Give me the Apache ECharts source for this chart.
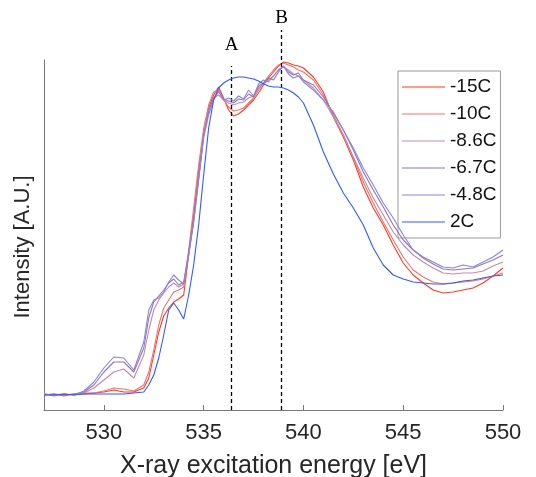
<!DOCTYPE html>
<html>
<head>
<meta charset="utf-8">
<script src="https://cdn.jsdelivr.net/npm/echarts@6/dist/echarts.min.js"></script>
<style>
html,body{margin:0;padding:0;background:#fff;}
#chart{width:536px;height:477px;}
</style>
</head>
<body>
<div id="chart"></div>
<script>
// Energy grid (eV)
const energies = [527,527.5,528,528.5,529,529.5,530,530.5,531,531.5,532,
  532.25,532.5,532.75,533,533.25,533.5,533.75,534,534.25,534.5,534.75,535,535.25,535.5,535.75,536,536.25,536.5,536.75,537,537.25,537.5,537.75,538,538.25,538.5,538.75,539,539.25,539.5,539.75,540,
  540.5,541,541.5,542,542.5,543,543.5,544,544.5,545,545.5,546,546.5,547,547.5,548,548.5,549,549.5,550];

const seriesNames = ['-15C','-10C','-8.6C','-6.7C','-4.8C','2C'];

const intM15 = [15,16,14,16,16,17,18,20,18,18,22,
  32,55,78,94,102,108,111,115,155,195,240,275,302,315,323,312,300,294,296,300,305,310,317,325,332,338,344,348,347,345,344,342,
  333,318,293,273,250,223,202,185,165,147,135,127,120,117,118,120,122,127,134,142];

const intM10 = [16,15,16,15,17,17,19,22,21,19,25,
  38,60,85,102,110,118,120,123,160,202,245,282,305,318,320,310,303,299,300,302,307,312,320,327,334,340,345,347,345,343,340,338,
  330,315,295,275,252,228,207,188,170,153,140,133,128,126,127,128,129,131,134,137];

const intM86 = [16,15,15,16,17,22,30,38,41,32,55,
  80,100,110,117,123,127,123,126,155,188,232,275,300,312,315,310,307,305,307,308,312,314,322,326,330,334,340,343,340,336,334,330,
  322,310,293,275,253,232,212,195,178,165,155,148,142,137,136,137,137,139,144,148];

const intM67 = [15,16,15,16,18,25,38,48,48,38,62,
  92,108,114,120,127,131,125,128,158,190,232,275,298,312,318,311,309,307,311,310,316,313,324,327,332,330,338,344,338,335,337,330,
  325,313,297,280,260,238,220,203,185,170,160,152,146,141,140,141,142,146,150,155];

const intM48 = [16,14,16,15,19,28,42,53,52,40,68,
  100,110,112,118,128,135,130,126,155,188,230,272,295,310,319,310,312,309,314,311,320,314,326,330,328,334,340,344,336,332,334,328,
  320,310,298,280,262,242,225,207,192,175,160,153,148,143,142,145,143,148,153,160];

const int2C = [15,15,16,15,16,16,16,16,16,17,18,
  25,35,52,75,100,107,100,91,115,145,185,235,282,310,322,327,330,332,333,333,332,331,329,326,324,323,323,322,320,317,313,307,
  285,258,236,217,202,185,162,145,135,131,128,127,126,126,127,129,130,132,134,135];

const xTicks = [530,535,540,545,550];
const markerX = [536.4, 538.9];
const markerTop = [344, 380];
const markerLabels = ['A','B'];

const colors = ['#ff3b1c','#f07272','#c58aa6','#9474b4','#8585e6','#2f5bff'];
const allData = [intM15,intM10,intM86,intM67,intM48,int2C];

const chart = echarts.init(document.getElementById('chart'), null, {renderer:'canvas'});

const series = seriesNames.map((n,i)=>({
  name:n, type:'line', symbol:'none', showSymbol:false, clip:false,
  xAxisIndex:0, yAxisIndex:0,
  data: energies.map((e,j)=>[e, allData[i][j]]),
  lineStyle:{color:colors[i], width:1.1},
  itemStyle:{color:colors[i]},
  z: 2+i
}));

series.push({
  name:'markers', type:'line', xAxisIndex:1, yAxisIndex:1, symbol:'none', clip:false,
  data:[[markerX[0],0]], lineStyle:{opacity:0}, z:10,
  markLine:{
    symbol:'none', silent:true, animation:false,
    lineStyle:{type:[4,3], color:'#000', width:1.3},
    label:{show:true, position:'end', fontFamily:'Liberation Serif, Times New Roman, serif', fontSize:19, color:'#000'},
    data: markerX.map((x,i)=>[
      {coord:[x,0], label:{formatter:markerLabels[i], distance: i===0 ? 11 : 2}},
      {coord:[x,markerTop[i]]}
    ])
  }
});

const font = 'Liberation Sans, Arial, sans-serif';

chart.setOption({
  animation:false,
  backgroundColor:'#fff',
  grid:[
    {left:44, right:33, top:60, bottom:67, outerBoundsMode:'none', containLabel:false},
    {left:44, right:33, top:10, bottom:67, outerBoundsMode:'none', containLabel:false}
  ],
  legend:{
    data:seriesNames, orient:'vertical', left:398, top:71,
    padding:[6,4,6,4], itemGap:7, itemWidth:43, itemHeight:1, icon:'rect',
    borderColor:'#999', borderWidth:1, backgroundColor:'#fff',
    textStyle:{fontFamily:font, fontSize:19, color:'#111', lineHeight:20}
  },
  xAxis:[{
    type:'value', min:527, max:550, gridIndex:0,
    name:'X-ray excitation energy [eV]', nameLocation:'middle', nameGap:44,
    nameTextStyle:{fontFamily:font, fontSize:25, color:'#262626'},
    axisLine:{show:true, onZero:false, lineStyle:{color:'#777', width:1}},
    axisTick:{show:true, inside:true, length:5, customValues:xTicks, lineStyle:{color:'#777'}},
    axisLabel:{show:true, customValues:xTicks, margin:12, fontFamily:font, fontSize:22, color:'#262626'},
    splitLine:{show:false}
  },{
    type:'value', min:527, max:550, gridIndex:1, show:false
  }],
  yAxis:[{
    type:'value', min:0, max:350, gridIndex:0,
    name:'Intensity [A.U.]', nameLocation:'middle', nameGap:10, nameRotate:90,
    nameTextStyle:{fontFamily:font, fontSize:22, color:'#262626', padding:[0,24,0,0]},
    axisLine:{show:true, lineStyle:{color:'#777', width:1}},
    axisTick:{show:false}, axisLabel:{show:false}, splitLine:{show:false}
  },{
    type:'value', min:0, max:400, gridIndex:1, show:false
  }],
  series: series
});
</script>
</body>
</html>
